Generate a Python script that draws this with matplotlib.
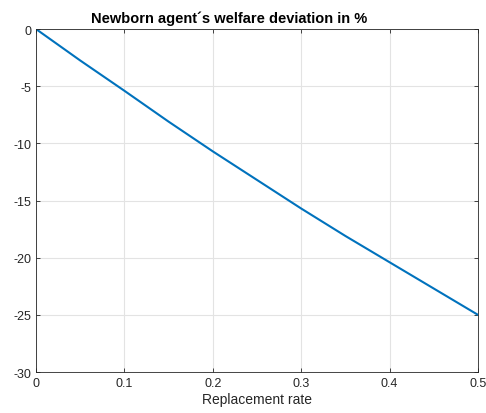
import numpy as np
import matplotlib
matplotlib.use('Agg')
import matplotlib.pyplot as plt

plt.rcParams['font.family'] = ['Liberation Sans', 'DejaVu Sans']
plt.rcParams['axes.unicode_minus'] = False

# values
replacement_rate = [0.0, 0.05, 0.1, 0.15, 0.2, 0.25, 0.3, 0.35, 0.4, 0.45, 0.5]
welfare_dev = [0.0, -2.75, -5.4, -8.1, -10.7, -13.2, -15.7, -18.1, -20.4, -22.7, -25.0]

fig = plt.figure(figsize=(4.86, 4.14), dpi=100)
ax = fig.add_axes([0.074, 0.099, 0.9095, 0.8285])

ax.plot(replacement_rate, welfare_dev, color='#0072BD', linewidth=1.5)

ax.set_xlim(0, 0.5)
ax.set_ylim(-30, 0)
ax.set_xticks([0, 0.1, 0.2, 0.3, 0.4, 0.5])
ax.set_xticklabels(['0', '0.1', '0.2', '0.3', '0.4', '0.5'])
ax.set_yticks([-30, -25, -20, -15, -10, -5, 0])

ax.grid(True, color='#e3e3e3', linewidth=0.8)
ax.set_axisbelow(True)
ax.tick_params(direction='in', length=3, top=True, right=True, labelsize=9,
               colors='#262626', width=0.6)
for s in ax.spines.values():
    s.set_color('#262626')
    s.set_linewidth(0.6)

# title sits a bit left of centre in the original
ax.text(0.438, 1.012, 'Newborn agent´s welfare deviation in %', transform=ax.transAxes,
        ha='center', va='bottom', fontsize=10.5, fontweight='bold')
ax.set_xlabel('Replacement rate', fontsize=10, color='#262626', labelpad=2)

fig.savefig('out.png', dpi=100)
